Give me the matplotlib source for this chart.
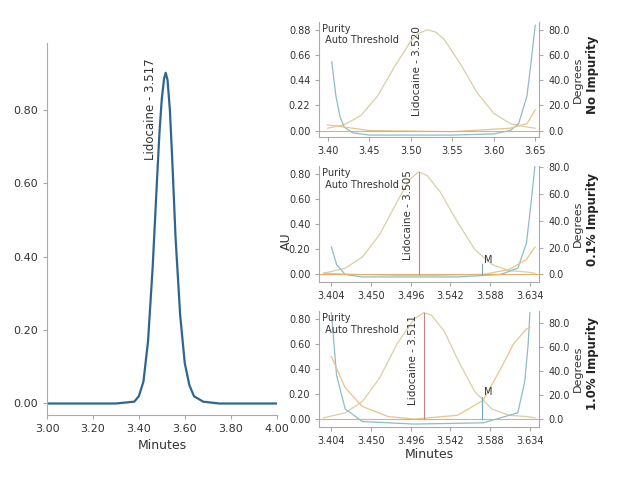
import matplotlib
matplotlib.use("Agg")
import matplotlib.pyplot as plt

# Left chromatogram
main_x = [3.00, 3.30, 3.38, 3.40, 3.42, 3.44, 3.46, 3.48, 3.49, 3.50, 3.51, 3.517, 3.525, 3.535, 3.545, 3.56, 3.58, 3.60, 3.62, 3.64, 3.68, 3.75, 4.00]
main_y = [0.0, 0.0, 0.005, 0.02, 0.06, 0.17, 0.37, 0.62, 0.74, 0.83, 0.885, 0.90, 0.88, 0.80, 0.67, 0.45, 0.24, 0.11, 0.05, 0.02, 0.005, 0.0, 0.0]
main_xticks = [3.00, 3.20, 3.40, 3.60, 3.80, 4.00]
main_yticks = [0.00, 0.20, 0.40, 0.60, 0.80]

# Panel 1: No impurity
p1_x = [3.40, 3.42, 3.44, 3.46, 3.48, 3.50, 3.51, 3.52, 3.53, 3.54, 3.56, 3.58, 3.60, 3.62, 3.64, 3.65]
p1_peak = [0.02, 0.05, 0.13, 0.30, 0.55, 0.78, 0.85, 0.88, 0.86, 0.80, 0.58, 0.33, 0.15, 0.06, 0.03, 0.02]
p1_blue_x = [3.405, 3.41, 3.415, 3.42, 3.43, 3.45, 3.55, 3.60, 3.62, 3.63, 3.64, 3.645, 3.65]
p1_blue = [0.60, 0.30, 0.12, 0.03, -0.02, -0.04, -0.04, -0.03, 0.0, 0.06, 0.30, 0.60, 0.92]
p1_or_x = [3.40, 3.42, 3.45, 3.55, 3.62, 3.64, 3.65]
p1_or = [0.05, 0.03, 0.0, -0.01, 0.02, 0.06, 0.18]
p1_xticks = [3.40, 3.45, 3.50, 3.55, 3.60, 3.65]
p1_yticks = [0.00, 0.22, 0.44, 0.66, 0.88]

# Panel 2: 0.1% impurity
p2_x = [3.395, 3.42, 3.44, 3.46, 3.48, 3.495, 3.505, 3.515, 3.53, 3.55, 3.57, 3.59, 3.61, 3.63, 3.64]
p2_peak = [0.01, 0.05, 0.14, 0.32, 0.58, 0.76, 0.82, 0.79, 0.66, 0.42, 0.20, 0.08, 0.03, 0.02, 0.01]
p2_blue_x = [3.404, 3.41, 3.42, 3.44, 3.55, 3.60, 3.62, 3.63, 3.635, 3.64]
p2_blue = [0.22, 0.08, 0.0, -0.02, -0.02, 0.0, 0.05, 0.25, 0.55, 0.88]
p2_or_x = [3.395, 3.43, 3.50, 3.58, 3.61, 3.63, 3.64]
p2_or = [0.01, 0.0, -0.01, 0.0, 0.04, 0.12, 0.22]
p2_xticks = [3.404, 3.450, 3.496, 3.542, 3.588, 3.634]
p2_yticks = [0.00, 0.20, 0.40, 0.60, 0.80]

# Panel 3: 1.0% impurity
p3_x = [3.395, 3.42, 3.44, 3.46, 3.48, 3.50, 3.511, 3.52, 3.535, 3.55, 3.57, 3.59, 3.61, 3.63, 3.64]
p3_peak = [0.01, 0.05, 0.14, 0.33, 0.60, 0.80, 0.85, 0.83, 0.70, 0.48, 0.22, 0.08, 0.03, 0.02, 0.01]
p3_blue_x = [3.404, 3.41, 3.42, 3.44, 3.50, 3.58, 3.62, 3.628, 3.632, 3.634]
p3_blue = [0.85, 0.35, 0.08, -0.02, -0.04, -0.03, 0.05, 0.30, 0.60, 0.85]
p3_or_x = [3.404, 3.42, 3.44, 3.47, 3.50, 3.55, 3.58, 3.60, 3.615, 3.63, 3.634]
p3_or = [0.50, 0.25, 0.10, 0.02, 0.0, 0.03, 0.15, 0.40, 0.60, 0.72, 0.73]
p3_xticks = p2_xticks
p3_yticks = p2_yticks

deg_ticks = [0.0, 20.0, 40.0, 60.0, 80.0]

BLUE = "#2f6690"
AXC = "#aaaaaa"
TXT = "#333333"

fig = plt.figure(figsize=(6.2, 4.82), dpi=100)

def style(ax):
    for s in ["top", "right"]:
        ax.spines[s].set_visible(False)
    for s in ["left", "bottom"]:
        ax.spines[s].set_color(AXC)
    ax.tick_params(colors=TXT, labelsize=8, length=3, color=AXC)

ax = fig.add_axes([0.076, 0.14, 0.37, 0.77])
ax.plot(main_x, main_y, color=BLUE, lw=1.6)
ax.set_xlim(3.0, 4.0)
ax.set_ylim(-0.03, 0.98)
ax.set_xticks(main_xticks)
ax.set_xticklabels([f"{t:.2f}" for t in main_xticks])
ax.set_yticks(main_yticks)
ax.set_yticklabels([f"{t:.2f}" for t in main_yticks])
style(ax)
ax.set_xlabel("Minutes", fontsize=9, color=TXT)
ax.text(3.45, 0.80, "Lidocaine - 3.517", rotation=90, fontsize=8.5, color=TXT, ha="center", va="center")

panels = [
    (0.715, p1_x, p1_peak, p1_blue_x, p1_blue, p1_or_x, p1_or, p1_xticks, p1_yticks, (3.39, 3.655), 0.88, 3.520, "Lidocaine - 3.520", "No Impurity", None, False),
    (0.415, p2_x, p2_peak, p2_blue_x, p2_blue, p2_or_x, p2_or, p2_xticks, p2_yticks, (3.39, 3.645), 0.86, 3.505, "Lidocaine - 3.505", "0.1% Impurity", 3.578, True),
    (0.115, p3_x, p3_peak, p3_blue_x, p3_blue, p3_or_x, p3_or, p3_xticks, p3_yticks, (3.39, 3.645), 0.77, 3.511, "Lidocaine - 3.511", "1.0% Impurity", 3.578, True),
]
for i, (bot, x, pk, bx, by, ox, oy, xt, yt, xl, au80, rt, lab, imp, mx, vline) in enumerate(panels):
    a = fig.add_axes([0.515, bot, 0.355, 0.24])
    ymax = max(yt) * 1.08
    ymin = -0.06
    a.plot(x, pk, color="#d9cfa6", lw=0.9)
    a.plot(bx, by, color="#8dbdc4", lw=0.9)
    a.plot(ox, oy, color="#e9c48a", lw=0.9)
    a.axhline(0, color="#e0b070", lw=0.8)
    if vline:
        a.plot([rt, rt], [0, max(pk)], color="#c98080", lw=0.8)
    if mx is not None:
        a.plot([mx, mx], [0, 0.08 if i == 1 else 0.18], color="#6fa8b5", lw=0.8)
        a.text(mx + 0.003, 0.09 if i == 1 else 0.19, "M", fontsize=7, color=TXT)
    a.set_xlim(*xl)
    a.set_ylim(ymin, ymax)
    a.set_xticks(xt)
    a.set_xticklabels([f"{t:.2f}" if i == 0 else f"{t:.3f}" for t in xt])
    a.set_yticks(yt)
    a.set_yticklabels([f"{t:.2f}" for t in yt])
    style(a)
    a.tick_params(labelsize=7)
    a.text(3.393, ymax * 0.98, "Purity\n Auto Threshold", fontsize=7, color=TXT, va="top")
    a.text(rt - 0.012, ymax * 0.55, lab, rotation=90, fontsize=7.5, color=TXT, ha="center", va="center")
    t = a.twinx()
    f = 80.0 / au80
    t.set_ylim(ymin * f, ymax * f)
    t.set_yticks(deg_ticks)
    t.set_yticklabels([f"{d:.1f}" for d in deg_ticks])
    for s in ["top", "left", "bottom"]:
        t.spines[s].set_visible(False)
    t.spines["right"].set_color(AXC)
    t.tick_params(colors=TXT, labelsize=7, length=3, color=AXC)
    t.set_ylabel("Degrees", fontsize=8, color=TXT, labelpad=2)
    fig.text(0.955, bot + 0.13, imp, rotation=90, fontsize=8.5, fontweight="bold", color="#222222", ha="center", va="center")
    if i == 2:
        a.set_xlabel("Minutes", fontsize=9, color=TXT, labelpad=2)

fig.text(0.462, 0.5, "AU", rotation=90, fontsize=9, color=TXT, ha="center", va="center")
fig.savefig("out.png", dpi=100, facecolor="white")
